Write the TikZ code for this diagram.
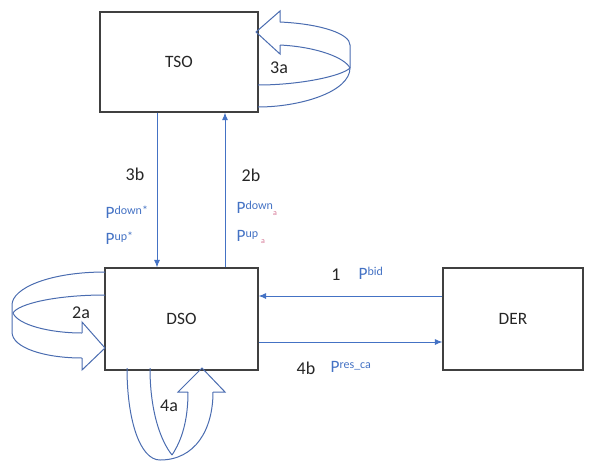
\documentclass[tikz,border=0pt]{standalone}
\usepackage{fontspec}
\setmainfont{Carlito}
\usepackage{xcolor}
\usetikzlibrary{positioning,arrows.meta,calc}
\definecolor{aLine}{RGB}{68,114,196}
\definecolor{bLine}{RGB}{74,108,176}
\definecolor{boxLine}{RGB}{64,64,64}
\definecolor{txt}{RGB}{38,38,38}
\definecolor{subPink}{RGB}{214,120,150}
\tikzset{
  actor/.style={rectangle, draw=boxLine, fill=white, line width=0.8pt,
                align=center, font=\fontsize{13}{15}\selectfont, text=txt},
  flow/.style={-{Latex[length=2mm,width=1.6mm]}, draw=aLine, line width=0.75pt},
  band/.style={draw=bLine, line width=0.75pt, line join=miter},
  step lbl/.style={font=\fontsize{13.5}{15}\selectfont, text=txt, inner sep=1pt},
  plbl/.style={font=\fontsize{13}{15}\selectfont, text=aLine, inner sep=1pt, anchor=west},
}
\newcommand{\pow}[1]{P\raisebox{0.5ex}{\fontsize{9}{10}\selectfont #1}}
\newcommand{\subA}{\raisebox{-0.2ex}{\fontsize{6}{7}\selectfont\color{subPink}a}}
\begin{document}
\begin{tikzpicture}[x=0.75pt, y=-0.75pt]
  \useasboundingbox (0,0) rectangle (593,461);

  % ---- the three actors ----
  \node[actor, minimum width=118.5pt, minimum height=75pt] (tso) at (179,62) {TSO};
  \node[actor, minimum width=114.75pt, minimum height=76.5pt] (dso) at (181.5,319) {DSO};
  \node[actor, minimum width=105pt, minimum height=76.5pt] (der) at (513,319) {DER};

  % ---- where the straight flows run ----
  \coordinate (c3b) at (157,0);
  \coordinate (c2b) at (225,0);
  \coordinate (c1)  at (0,296);
  \coordinate (c4b) at (0,342);

  % ===== exchanged flows =====
  \draw[flow] (tso.south -| c3b) -- (dso.north -| c3b);
  \draw[flow] (dso.north -| c2b) -- (tso.south -| c2b);
  \draw[flow] (der.west |- c1) -- (dso.east |- c1);
  \draw[flow] (dso.east |- c4b) -- (der.west |- c4b);

  % ---- step numbers ----
  \node[step lbl] (l3b) at (135,174) {3b};
  \node[step lbl] (l2b) at (251,175) {2b};
  \node[step lbl] (l1)  at (336,275) {1};
  \node[step lbl] (l4b) at (306,368) {4b};
  \node[step lbl] (l3a) at (279,68) {3a};
  \node[step lbl] (l2a) at (81,313) {2a};
  \node[step lbl] (l4a) at (169,406) {4a};

  % ---- power labels ----
  \node[plbl] (pd3b) at (104,212) {\pow{down*}};
  \node[plbl] (pu3b) at (104,238) {\pow{up*}};
  \node[plbl] (pd2b) at (235,208) {\pow{down}\subA};
  \node[plbl] (pu2b) at (235,237) {\pow{up}\,\subA};
  \node[plbl] (pbid) at (357,273) {\pow{bid}};
  \node[plbl] (pres) at (329,367) {\pow{res\_ca}};

  % ===== internal loops (curved block arrows) =====
  % 3a -- TSO right side
  \draw[band] (280,22) -- (280,11) -- (256,32) -- (280,54) -- (280,45);
  \draw[band] (280,22) .. controls (322,24) and (350,34) .. (350,45) -- (350,68)
              .. controls (350,92) and (300,107) .. (258,107);
  \draw[band] (280,45) .. controls (318,47) and (345,58) .. (350,68);
  \draw[band] (258,85) .. controls (300,85) and (342,76) .. (350,68);

  % 2a -- DSO left side
  \draw[band] (82,333) -- (82,322) -- (105,348) -- (82,370) -- (82,358);
  \draw[band] (105,272) .. controls (50,272) and (12,288) .. (12,305) -- (12,332)
              .. controls (12,348) and (45,358) .. (82,358);
  \draw[band] (105,295) .. controls (55,295) and (18,304) .. (13,313);
  \draw[band] (13,313) .. controls (18,325) and (50,333) .. (82,333);

  % 4a -- DSO bottom side
  \draw[band] (188,392) -- (178,392) -- (202,368) -- (225,392) -- (213,392);
  \draw[band] (127,368) .. controls (127,420) and (140,460) .. (160,460)
              .. controls (195,460) and (213,430) .. (213,392);
  \draw[band] (150,368) .. controls (150,410) and (160,440) .. (172,455);
  \draw[band] (172,455) .. controls (182,440) and (188,420) .. (188,392);
\end{tikzpicture}
\end{document}
